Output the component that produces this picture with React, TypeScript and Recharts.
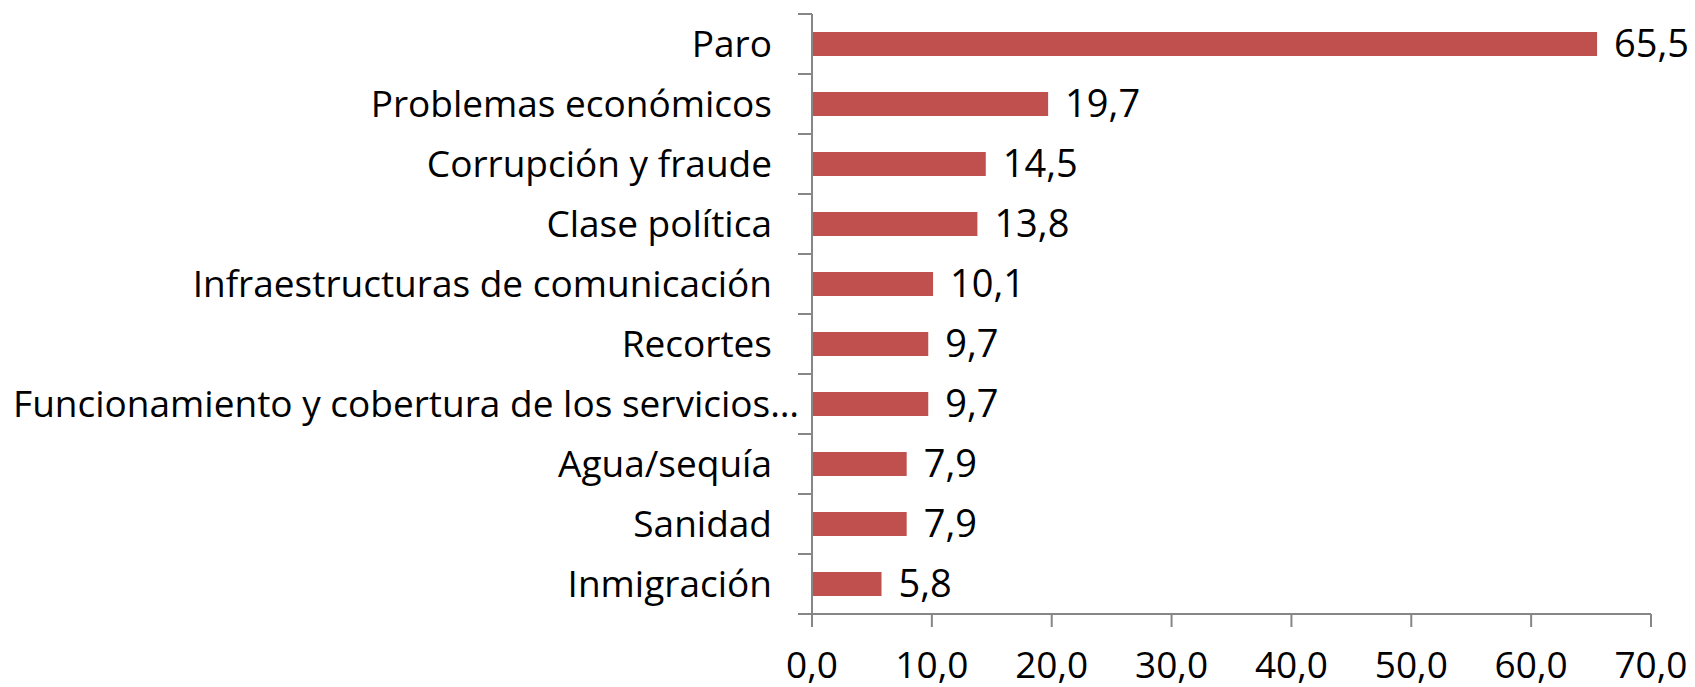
import React from 'react';
import { BarChart, Bar, XAxis, YAxis, LabelList } from 'recharts';

const categories = [
  'Paro',
  'Problemas económicos',
  'Corrupción y fraude',
  'Clase política',
  'Infraestructuras de comunicación',
  'Recortes',
  'Funcionamiento y cobertura de los servicios…',
  'Agua/sequía',
  'Sanidad',
  'Inmigración',
];
const values = [65.5, 19.7, 14.5, 13.8, 10.1, 9.7, 9.7, 7.9, 7.9, 5.8];
const xTicks = [0, 10, 20, 30, 40, 50, 60, 70];

const data = categories.map((name, i) => ({ name, value: values[i] }));

const WIDTH = 1695;
const HEIGHT = 687;
const MARGIN = { top: 14, right: 44, bottom: 0, left: 0 };
const X_AXIS_HEIGHT = 73;
const Y_AXIS_WIDTH = 812;
const AXIS_COLOR = '#868686';
const FONT = '"Open Sans", sans-serif';
const band = (HEIGHT - MARGIN.top - MARGIN.bottom - X_AXIS_HEIGHT) / categories.length;

const fmt = (v: number) => v.toFixed(1).replace('.', ',');

function CategoryTick(props: any) {
  const { x, y, payload, index } = props;
  const axisX = Y_AXIS_WIDTH;
  // truncated labels sit closer to the axis, like in the original
  const shift = String(payload.value).endsWith('…') ? 27 : 0;
  return (
    <g>
      <line x1={axisX - 14} x2={axisX} y1={y - band / 2} y2={y - band / 2} stroke={AXIS_COLOR} strokeWidth={2} />
      {index === categories.length - 1 && (
        <line x1={axisX - 14} x2={axisX} y1={y + band / 2} y2={y + band / 2} stroke={AXIS_COLOR} strokeWidth={2} />
      )}
      <text x={x + shift} y={y} dy="0.36em" textAnchor="end" fill="#000" fontSize={37} fontFamily={FONT}>
        {payload.value}
      </text>
    </g>
  );
}

export default function App() {
  return (
    <div style={{ position: 'absolute', left: 0, top: 0, background: '#fff' }}>
      <BarChart width={WIDTH} height={HEIGHT} data={data} layout="vertical" margin={MARGIN}>
        <XAxis
          type="number"
          domain={[0, 70]}
          ticks={xTicks}
          tickFormatter={fmt}
          height={X_AXIS_HEIGHT}
          tickSize={13}
          tickMargin={25}
          stroke={AXIS_COLOR}
          axisLine={{ stroke: AXIS_COLOR, strokeWidth: 2 }}
          tickLine={{ stroke: AXIS_COLOR, strokeWidth: 2 }}
          tick={{ fill: '#000', fontSize: 37, fontFamily: FONT }}
          interval={0}
        />
        <YAxis
          type="category"
          dataKey="name"
          width={Y_AXIS_WIDTH}
          tickSize={14}
          tickMargin={26}
          tickLine={false}
          axisLine={{ stroke: AXIS_COLOR, strokeWidth: 2 }}
          tick={<CategoryTick />}
          interval={0}
        />
        <Bar dataKey="value" fill="#C0504D" barSize={24} isAnimationActive={false}>
          <LabelList
            dataKey="value"
            position="right"
            offset={17}
            formatter={(v: any) => fmt(Number(v))}
            fill="#000"
            fontSize={38}
            fontFamily={FONT}
          />
        </Bar>
      </BarChart>
    </div>
  );
}
